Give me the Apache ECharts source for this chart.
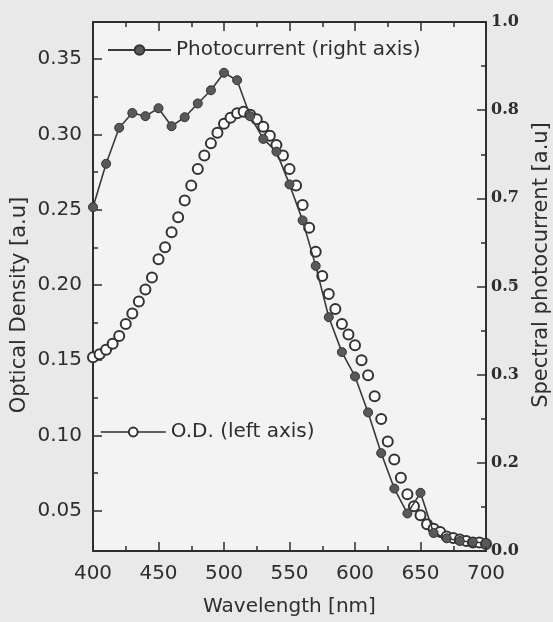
<!DOCTYPE html>
<html>
<head>
<meta charset="utf-8">
<script src="https://cdn.jsdelivr.net/npm/echarts@6/dist/echarts.min.js"></script>
<style>
html,body{margin:0;padding:0;background:#e9e9e9;}
#chart{width:553px;height:622px;}
</style>
</head>
<body>
<div id="chart"></div>
<script>
// Photocurrent (right axis), every 10 nm
const pcWavelength = [400,410,420,430,440,450,460,470,480,490,500,510,520,530,540,550,560,570,580,590,600,610,620,630,640,650,660,670,680,690,700];
const photocurrent = [0.650,0.732,0.800,0.828,0.822,0.837,0.803,0.820,0.846,0.871,0.904,0.890,0.822,0.779,0.755,0.693,0.625,0.539,0.442,0.376,0.330,0.262,0.185,0.118,0.071,0.110,0.034,0.024,0.019,0.017,0.015];

// Optical density (left axis), every 5 nm
const odWavelength = [400,405,410,415,420,425,430,435,440,445,450,455,460,465,470,475,480,485,490,495,500,505,510,515,520,525,530,535,540,545,550,555,560,565,570,575,580,585,590,595,600,605,610,615,620,625,630,635,640,645,650,655,660,665,670,675,680,685,690,695,700];
const opticalDensity = [0.152,0.154,0.157,0.161,0.166,0.174,0.181,0.189,0.197,0.205,0.217,0.225,0.235,0.245,0.256,0.266,0.277,0.286,0.294,0.301,0.307,0.311,0.314,0.315,0.313,0.310,0.305,0.299,0.293,0.286,0.277,0.266,0.253,0.238,0.222,0.206,0.194,0.184,0.174,0.167,0.160,0.150,0.140,0.126,0.111,0.096,0.084,0.072,0.061,0.053,0.047,0.041,0.038,0.036,0.033,0.032,0.031,0.030,0.029,0.029,0.028];

// Tick labels
const leftTicks = [0.05,0.10,0.15,0.20,0.25,0.30,0.35];
const leftMinorTicks = [0.075,0.125,0.175,0.225,0.275,0.325];
const rightTickLabels = ['0.0','0.2','0.3','0.5','0.7','0.8','1.0'];

const FONT = 'DejaVu Sans';
const INK = '#2e2e2e';

const chart = echarts.init(document.getElementById('chart'), null, {renderer:'canvas'});

const pcData = pcWavelength.map((w,i)=>[w, photocurrent[i]]);
const odData = odWavelength.map((w,i)=>[w, opticalDensity[i]]);

const xCommon = {
  type:'value', min:400, max:700, interval:50,
  axisLine:{show:true, lineStyle:{color:INK, width:2}},
  axisTick:{show:true, inside:true, length:9, lineStyle:{color:INK, width:1.5}},
  minorTick:{show:true, splitNumber:2, length:5, lineStyle:{color:INK, width:1.5}},
  splitLine:{show:false}
};

const option = {
  backgroundColor:'#e9e9e9',
  animation:false,
  grid:{left:93, right:67, top:22, bottom:67, show:true, backgroundColor:'#f3f3f3', borderWidth:0},
  xAxis:[
    Object.assign({}, xCommon, {
      position:'bottom',
      axisLabel:{show:true, margin:13, fontFamily:FONT, fontSize:20, color:INK},
      name:'Wavelength [nm]', nameLocation:'middle', nameGap:46,
      nameTextStyle:{fontFamily:FONT, fontSize:20, color:INK}
    }),
    Object.assign({}, xCommon, {
      position:'top',
      axisLabel:{show:false}
    })
  ],
  yAxis:[
    {
      type:'value', position:'left', min:0.0233, max:0.3746,
      axisLine:{show:true, lineStyle:{color:INK, width:2}},
      axisTick:{show:true, inside:true, length:9, customValues:leftTicks, lineStyle:{color:INK, width:1.5}},
      axisLabel:{show:true, margin:11, customValues:leftTicks, fontFamily:FONT, fontSize:20, color:INK,
                 formatter:v=>v.toFixed(2)},
      splitLine:{show:false}
    },
    {
      type:'value', position:'left', min:0.0233, max:0.3746,
      axisLine:{show:false},
      axisTick:{show:true, inside:true, length:5, customValues:leftMinorTicks, lineStyle:{color:INK, width:1.5}},
      axisLabel:{show:false},
      splitLine:{show:false}
    },
    {
      type:'value', position:'right', min:0, max:1, interval:1/6,
      axisLine:{show:true, lineStyle:{color:INK, width:2}},
      axisTick:{show:true, inside:true, length:9, lineStyle:{color:INK, width:1.5}},
      minorTick:{show:true, splitNumber:2, length:5, lineStyle:{color:INK, width:1.5}},
      axisLabel:{show:true, margin:5, fontFamily:'DejaVu Serif', fontWeight:'bold', fontSize:16, color:INK,
                 formatter:v=>rightTickLabels[Math.round(v*6)]},
      splitLine:{show:false}
    }
  ],
  legend:[
    {
      data:['Photocurrent (right axis)'], left:107, top:40, padding:0,
      itemWidth:63, itemHeight:12,
      textStyle:{fontFamily:FONT, fontSize:20, color:INK},
      selectedMode:false
    },
    {
      data:['O.D. (left axis)'], left:100, top:422, padding:0,
      itemWidth:65, itemHeight:11,
      lineStyle:{width:1.5, color:INK, opacity:1},
      textStyle:{fontFamily:FONT, fontSize:20, color:INK},
      selectedMode:false
    }
  ],
  graphic:[
    {type:'text', x:20, y:305, rotation:Math.PI/2,
     style:{text:'Optical Density [a.u]', font:'21px "DejaVu Sans"', fill:INK, textAlign:'center', textVerticalAlign:'middle'}},
    {type:'text', x:542, y:265, rotation:Math.PI/2,
     style:{text:'Spectral photocurrent [a.u]', font:'21px "DejaVu Sans"', fill:INK, textAlign:'center', textVerticalAlign:'middle'}}
  ],
  series:[
    {
      name:'O.D. (left axis)', type:'line', xAxisIndex:0, yAxisIndex:0,
      data:odData, symbol:'emptyCircle', symbolSize:10, showAllSymbol:true,
      lineStyle:{width:0, opacity:0},
      itemStyle:{color:'#333', borderColor:'#333', borderWidth:1.7},
      z:2
    },
    {
      name:'Photocurrent (right axis)', type:'line', xAxisIndex:0, yAxisIndex:2,
      data:pcData, symbol:'circle', symbolSize:9, showAllSymbol:true,
      lineStyle:{width:1.6, color:'#3a3a3a'},
      itemStyle:{color:'#595959', borderColor:'#333', borderWidth:1},
      z:3
    }
  ]
};
chart.setOption(option);
</script>
</body>
</html>
